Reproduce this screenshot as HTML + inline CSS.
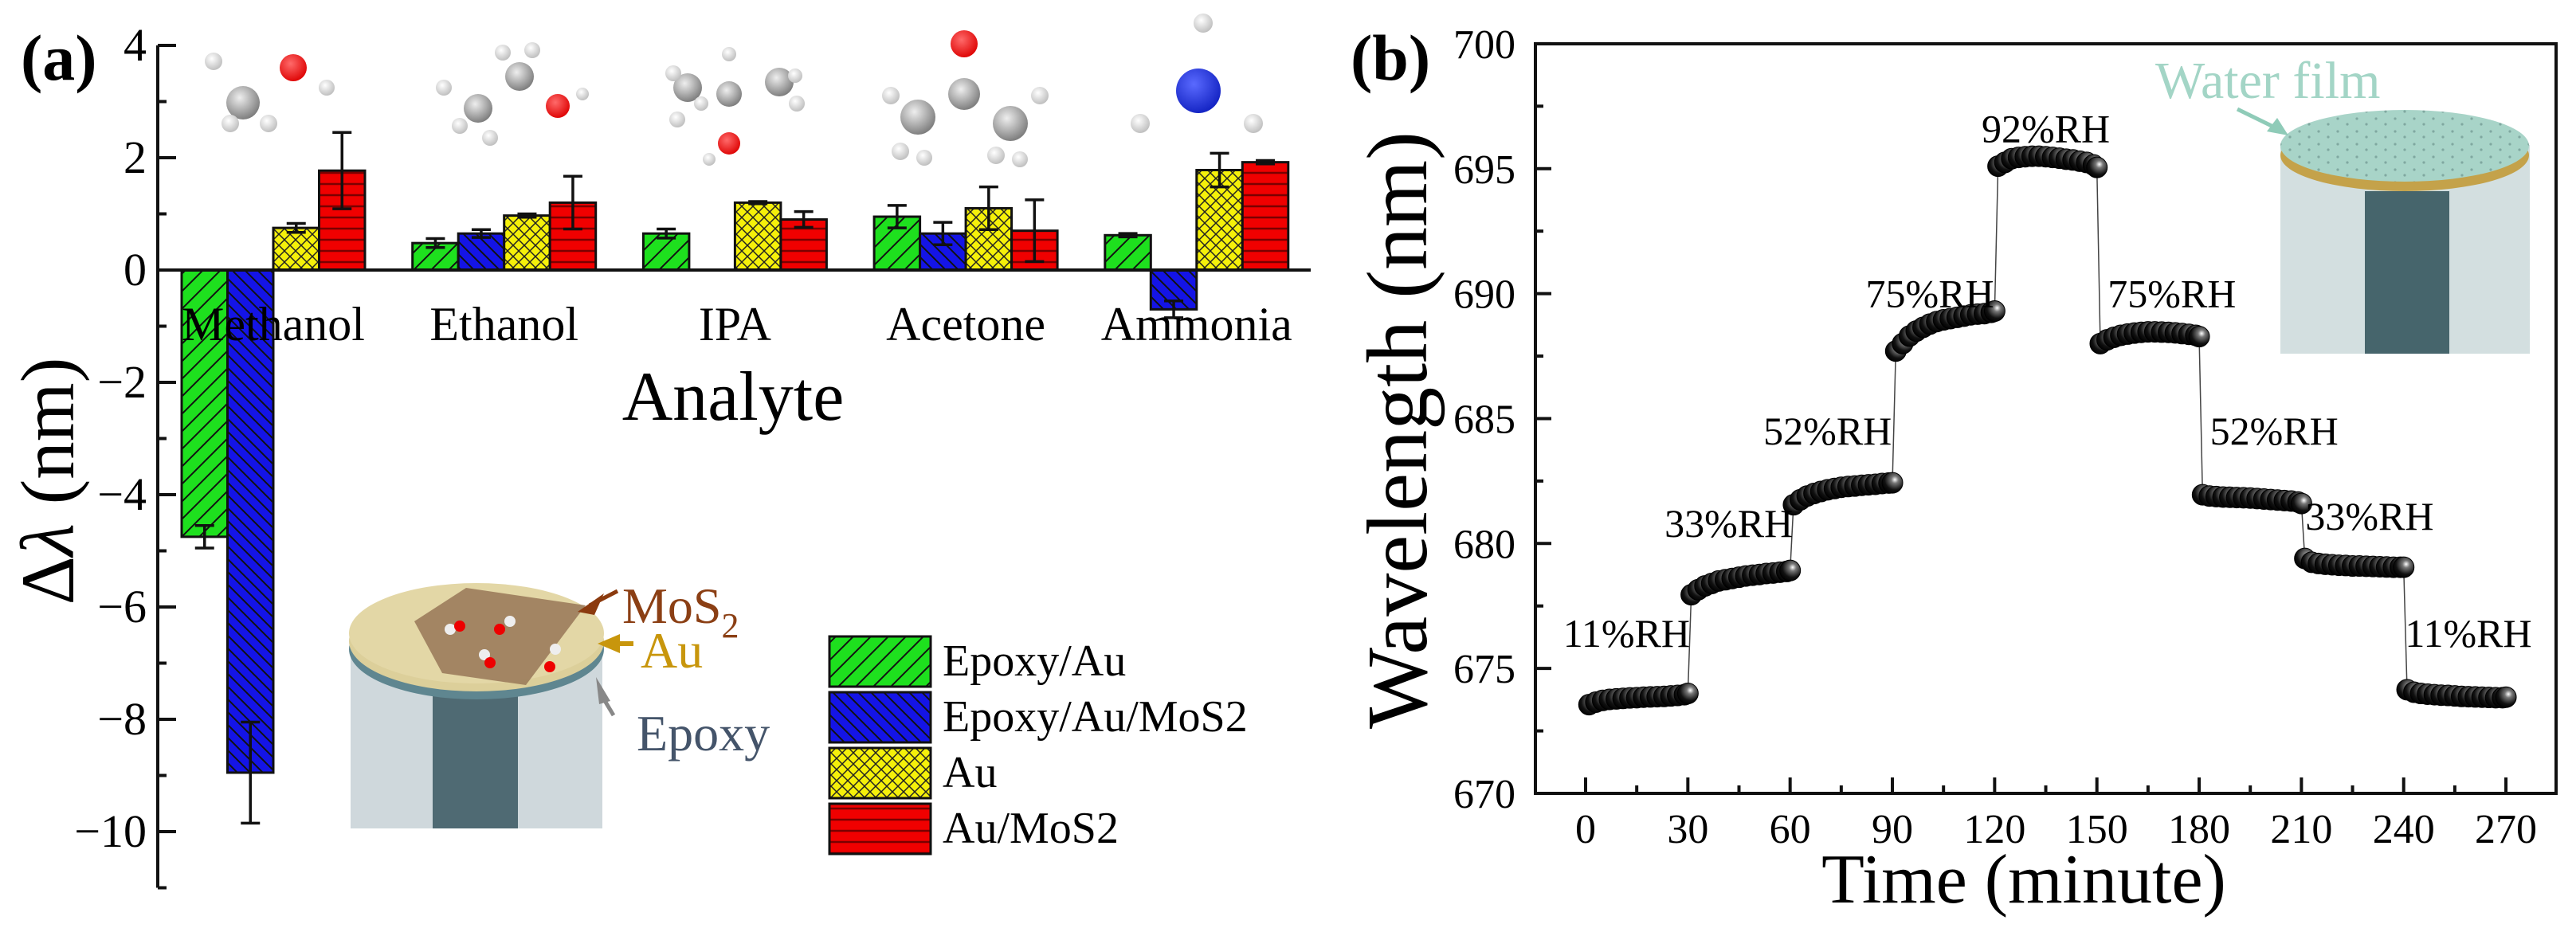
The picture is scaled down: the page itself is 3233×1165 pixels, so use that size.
<!DOCTYPE html>
<html><head><meta charset="utf-8"><style>
html,body{margin:0;padding:0;background:#fff;}
svg{display:block;font-family:"Liberation Serif",serif;}
</style></head><body>
<svg id="fig" width="3233" height="1165" viewBox="0 0 3233 1165" xmlns="http://www.w3.org/2000/svg">
<defs>
<pattern id="pG" patternUnits="userSpaceOnUse" width="22" height="22"><rect width="22" height="22" fill="#1ee01e"/><path d="M-5,27 L27,-5 M-16,16 L16,-16 M6,38 L38,6" stroke="#111" stroke-width="2"/></pattern>
<pattern id="pB" patternUnits="userSpaceOnUse" width="16" height="16"><rect width="16" height="16" fill="#1414e6"/><path d="M-4,-4 L20,20 M-12,4 L4,20 M4,-12 L20,4" stroke="#111" stroke-width="2"/></pattern>
<pattern id="pY" patternUnits="userSpaceOnUse" width="14" height="14"><rect width="14" height="14" fill="#f5f00a"/><path d="M0,0 L14,14 M14,0 L0,14" stroke="#222" stroke-width="1.5"/></pattern>
<pattern id="pR" patternUnits="userSpaceOnUse" width="14" height="14"><rect width="14" height="14" fill="#f00000"/><path d="M0,7 L14,7" stroke="#7a0000" stroke-width="2.5"/></pattern>
<pattern id="pW" patternUnits="userSpaceOnUse" width="24" height="16"><rect width="24" height="16" fill="#a8d4c8"/><circle cx="6" cy="5" r="1.6" fill="#7fa8a0"/><circle cx="18" cy="12" r="1.6" fill="#7fa8a0"/></pattern>
<radialGradient id="ball" cx="0.62" cy="0.35" r="0.7"><stop offset="0" stop-color="#fff"/><stop offset="0.25" stop-color="#777"/><stop offset="0.7" stop-color="#111"/><stop offset="1" stop-color="#000"/></radialGradient>
<radialGradient id="gC" cx="0.4" cy="0.35" r="0.7"><stop offset="0" stop-color="#eee"/><stop offset="1" stop-color="#777"/></radialGradient>
<radialGradient id="gH" cx="0.4" cy="0.35" r="0.7"><stop offset="0" stop-color="#fff"/><stop offset="1" stop-color="#bbb"/></radialGradient>
<radialGradient id="gO" cx="0.4" cy="0.35" r="0.7"><stop offset="0" stop-color="#ff6a6a"/><stop offset="1" stop-color="#d00"/></radialGradient>
<radialGradient id="gN" cx="0.4" cy="0.35" r="0.7"><stop offset="0" stop-color="#5a6aff"/><stop offset="1" stop-color="#1020c0"/></radialGradient>
</defs>

<text x="26" y="100" font-size="82" font-weight="bold">(a)</text>
<g id="molecules"></g>
<g id="pa"></g>
<text transform="translate(92,604) rotate(-90)" text-anchor="middle" font-size="95">Δ<tspan font-style="italic">λ</tspan> (nm)</text>
<text x="920" y="527" text-anchor="middle" font-size="88">Analyte</text>

<g>
<rect x="440" y="800" width="316" height="240" fill="#cfd8dc"/>
<rect x="543" y="860" width="107" height="180" fill="#4f6a73"/>
<ellipse cx="598" cy="815" rx="160" ry="63" fill="#5f8690"/>
<ellipse cx="598" cy="805" rx="160" ry="63" fill="#dccf9a"/>
<ellipse cx="598" cy="795" rx="160" ry="63" fill="#e3d7a6"/>
<polygon points="520,780 585,738 735,760 660,860 555,845" fill="#9b7c5c" opacity="0.9"/>
<circle cx="565" cy="790" r="7" fill="#eee"/><circle cx="577" cy="786" r="7" fill="#e00"/>
<circle cx="640" cy="780" r="7" fill="#eee"/><circle cx="627" cy="790" r="7" fill="#e00"/>
<circle cx="608" cy="822" r="7" fill="#eee"/><circle cx="615" cy="832" r="7" fill="#e00"/>
<circle cx="697" cy="815" r="7" fill="#eee"/><circle cx="690" cy="837" r="7" fill="#e00"/>
<polygon points="725,768 758,745 746,772" fill="#8b3a0e"/><line x1="740" y1="760" x2="775" y2="742" stroke="#8b3a0e" stroke-width="5"/>
<polygon points="750,808 778,796 778,820" fill="#c8960c"/><line x1="775" y1="808" x2="795" y2="808" stroke="#c8960c" stroke-width="6"/>
<polygon points="748,850 766,880 752,884" fill="#888"/><line x1="758" y1="878" x2="770" y2="898" stroke="#888" stroke-width="5"/>
<text x="781" y="782" font-size="64" fill="#8b3f14">MoS<tspan font-size="44" dy="18">2</tspan></text>
<text x="804" y="838" font-size="64" fill="#c8960c">Au</text>
<text x="799" y="942" font-size="64" fill="#44546a">Epoxy</text>
</g>

<g>
<g><rect x="1041" y="799" width="127" height="63" fill="url(#pG)" stroke="#111" stroke-width="3"/><text x="1183" y="848" font-size="56">Epoxy/Au</text></g>
<g><rect x="1041" y="869" width="127" height="63" fill="url(#pB)" stroke="#111" stroke-width="3"/><text x="1183" y="918" font-size="56">Epoxy/Au/MoS2</text></g>
<g><rect x="1041" y="939" width="127" height="63" fill="url(#pY)" stroke="#111" stroke-width="3"/><text x="1183" y="988" font-size="56">Au</text></g>
<g><rect x="1041" y="1009" width="127" height="63" fill="url(#pR)" stroke="#111" stroke-width="3"/><text x="1183" y="1058" font-size="56">Au/MoS2</text></g>
</g>

<text x="1695" y="100" font-size="82" font-weight="bold">(b)</text>
<g>
<rect x="2862" y="182" width="313" height="262" fill="#d3dfe0"/>
<rect x="2968" y="240" width="106" height="204" fill="#46656c"/>
<ellipse cx="3018" cy="195" rx="156" ry="45" fill="#c4a24a"/>
<ellipse cx="3018" cy="183" rx="156" ry="45" fill="url(#pW)"/>
<line x1="2808" y1="137" x2="2855" y2="160" stroke="#8fcbb8" stroke-width="5"/>
<polygon points="2845,165 2872,170 2858,148" fill="#8fcbb8"/>
<text x="2705" y="123" font-size="66" fill="#a3d5c6">Water film</text>
</g>
<g id="pb"></g>
<text transform="translate(1790,540) rotate(-90)" text-anchor="middle" font-size="108">Wavelength (nm)</text>
<text x="2540" y="1133" text-anchor="middle" font-size="88">Time (minute)</text>
</svg>
<script>
const categories = ["Methanol","Ethanol","IPA","Acetone","Ammonia"];
const epoxyAu = [-4.75, 0.48, 0.65, 0.95, 0.62];
const epoxyAuErr = [0.2, 0.08, 0.08, 0.2, 0.03];
const epoxyAuMoS2 = [-8.95, 0.65, null, 0.65, -0.7];
const epoxyAuMoS2Err = [0.9, 0.07, 0, 0.2, 0.15];
const au = [0.75, 0.97, 1.2, 1.1, 1.78];
const auErr = [0.08, 0.03, 0.02, 0.38, 0.3];
const auMoS2 = [1.77, 1.2, 0.9, 0.7, 1.92];
const auMoS2Err = [0.68, 0.47, 0.14, 0.55, 0.03];
const yTicksA = [4, 2, 0, -2, -4, -6, -8, -10];

const segStarts = [0, 30, 60, 90, 120, 150, 180, 210, 240];
const segOffsets = [1, 3, 5, 7, 9, 11, 13, 15, 17, 19, 21, 23, 25, 27, 29, 30];
const seg1 = [673.55,673.65,673.72,673.76,673.78,673.8,673.82,673.83,673.85,673.86,673.87,673.88,673.9,673.92,673.95,674.0];
const seg2 = [677.95,678.15,678.3,678.4,678.5,678.55,678.6,678.65,678.7,678.73,678.76,678.8,678.82,678.85,678.88,678.92];
const seg3 = [681.55,681.75,681.9,682.0,682.08,682.15,682.2,682.25,682.28,682.3,682.33,682.35,682.37,682.4,682.42,682.43];
const seg4 = [687.7,688.0,688.3,688.5,688.65,688.78,688.88,688.95,689.0,689.05,689.1,689.15,689.18,689.2,689.25,689.3];
const seg5 = [695.1,695.25,695.4,695.45,695.48,695.5,695.5,695.48,695.45,695.42,695.38,695.35,695.3,695.25,695.15,695.05];
const seg6 = [688.0,688.15,688.25,688.33,688.38,688.42,688.45,688.47,688.47,688.46,688.45,688.43,688.4,688.37,688.33,688.28];
const seg7 = [681.95,681.9,681.88,681.86,681.85,681.84,681.83,681.82,681.8,681.78,681.76,681.74,681.72,681.7,681.66,681.6];
const seg8 = [679.4,679.25,679.2,679.17,679.15,679.13,679.12,679.1,679.1,679.09,679.08,679.07,679.06,679.05,679.05,679.05];
const seg9 = [674.15,674.05,674.0,673.97,673.95,673.93,673.92,673.9,673.88,673.87,673.86,673.85,673.84,673.83,673.83,673.85];
const rhLabels = ["11%RH","33%RH","52%RH","75%RH","92%RH","75%RH","52%RH","33%RH","11%RH"];
const rhLabelT = [12, 42, 71, 101, 135, 172, 202, 230, 259];
const rhLabelW = [676.4, 680.8, 684.5, 690.0, 696.6, 690.0, 684.5, 681.1, 676.4];
const xTicksB = [0,30,60,90,120,150,180,210,240,270];
const yTicksB = [670,675,680,685,690,695,700];

const NS = "http://www.w3.org/2000/svg";
function mk(tag, attrs, parent){const e=document.createElementNS(NS,tag);for(const k in attrs)e.setAttribute(k,attrs[k]);parent.appendChild(e);return e;}

const pa = document.getElementById('pa');
const axA = {x0:198, y0:339, k:70.5, g0:228, gStep:289.7, bw:57.5};
const yA = v => axA.y0 - v*axA.k;
const series = [[epoxyAu,epoxyAuErr,'url(#pG)','epoxy-au'],[epoxyAuMoS2,epoxyAuMoS2Err,'url(#pB)','epoxy-au-mos2'],[au,auErr,'url(#pY)','au'],[auMoS2,auMoS2Err,'url(#pR)','au-mos2']];
categories.forEach((c,i)=>{
  series.forEach((s,j)=>{
    const v=s[0][i]; if(v===null) return;
    const x=axA.g0+i*axA.gStep+j*axA.bw;
    const r=mk('rect',{x:x,y:Math.min(yA(v),yA(0)),width:axA.bw,height:Math.abs(yA(v)-yA(0)),fill:s[2],stroke:'#111','stroke-width':3},pa);
    
    
    const e=s[1][i], cx=x+axA.bw/2;
    const g=mk('g',{stroke:'#111','stroke-width':3.5},pa);
    
    
    mk('line',{x1:cx,y1:yA(v+e),x2:cx,y2:yA(v-e)},g);
    mk('line',{x1:cx-12,y1:yA(v+e),x2:cx+12,y2:yA(v+e)},g);
    mk('line',{x1:cx-12,y1:yA(v-e),x2:cx+12,y2:yA(v-e)},g);
  });
  const t=mk('text',{x:axA.g0+i*axA.gStep+2*axA.bw,y:427,'text-anchor':'middle','font-size':60},pa);
  t.textContent=c;
  
  
});
const zl=mk('line',{x1:axA.x0,y1:yA(0),x2:1645,y2:yA(0),stroke:'#111','stroke-width':4},pa);


const yax=mk('line',{x1:axA.x0,y1:yA(4),x2:axA.x0,y2:yA(-11),stroke:'#111','stroke-width':4},pa);


for(let v=4; v>=-11; v--){
  const major = v%2===0;
  mk('line',{x1:axA.x0,y1:yA(v),x2:axA.x0+(major?23:11),y2:yA(v),stroke:'#111','stroke-width':4},pa);
}
yTicksA.forEach(v=>{
  const t=mk('text',{x:axA.x0-14,y:yA(v)+19,'text-anchor':'end','font-size':58},pa);
  t.textContent=(v<0?'\u2212':'')+Math.abs(v);
  
  
});

const mol=document.getElementById('molecules');
const atoms=[
 ['C',305,129,21],['O',368,85,17],['H',268,77,11],['H',410,110,10],['H',289,155,11],['H',337,155,11],
 ['C',600,136,18],['C',652,96,18],['O',700,133,15],['H',557,110,10],['H',577,158,10],['H',615,173,10],['H',631,66,10],['H',668,63,10],['H',731,118,8],
 ['C',863,110,18],['C',915,118,16],['C',978,103,18],['O',915,180,14],['H',845,92,10],['H',850,150,10],['H',880,130,9],['H',915,68,9],['H',1000,130,10],['H',998,95,9],['H',890,200,8],
 ['C',1152,147,22],['C',1210,118,20],['C',1268,155,22],['O',1210,55,17],['H',1118,120,11],['H',1130,190,11],['H',1160,198,10],['H',1305,120,11],['H',1250,195,11],['H',1280,200,10],
 ['N',1504,114,28],['H',1510,29,12],['H',1431,155,12],['H',1573,155,12]
];
const fills={C:'url(#gC)',O:'url(#gO)',H:'url(#gH)',N:'url(#gN)'};
atoms.forEach(a=>{const c=mk('circle',{cx:a[1],cy:a[2],r:a[3],fill:fills[a[0]]},mol);});

const pb=document.getElementById('pb');
const axB={L:1927,R:3208,T:55,B:996,x0:1990,kx:4.278,w0:670,ky:31.37};
const xB=t=>axB.x0+t*axB.kx, yB=w=>axB.B-(w-axB.w0)*axB.ky;
const segs=[seg1,seg2,seg3,seg4,seg5,seg6,seg7,seg8,seg9];
const frame=mk('rect',{x:axB.L,y:axB.T,width:axB.R-axB.L,height:axB.B-axB.T,fill:'none',stroke:'#111','stroke-width':4},pb);


for(let t=0;t<=270;t+=15){const M=t%30===0;mk('line',{x1:xB(t),y1:axB.B,x2:xB(t),y2:axB.B-(M?20:10),stroke:'#111','stroke-width':4},pb);}
for(let w=670;w<=700;w+=2.5){const M=w%5===0;mk('line',{x1:axB.L,y1:yB(w),x2:axB.L+(M?20:10),y2:yB(w),stroke:'#111','stroke-width':4},pb);}
xTicksB.forEach(t=>{const e=mk('text',{x:xB(t),y:1058,'text-anchor':'middle','font-size':52},pb);e.textContent=t;});
yTicksB.forEach(w=>{const e=mk('text',{x:1902,y:yB(w)+18,'text-anchor':'end','font-size':52},pb);e.textContent=w;});
for(let s=0;s<segs.length-1;s++){
  const a=segs[s], b=segs[s+1];
  const l=mk('line',{x1:xB(segStarts[s]+segOffsets[segOffsets.length-1]),y1:yB(a[a.length-1]),x2:xB(segStarts[s+1]+segOffsets[0]),y2:yB(b[0]),stroke:'#444','stroke-width':1.5},pb);
  
  
}
segs.forEach((sg,s)=>{
  const g=mk('g',{},pb);
  
  
  sg.forEach((w,i)=>{
    const c=mk('circle',{cx:xB(segStarts[s]+segOffsets[i]),cy:yB(w),r:13,fill:'url(#ball)',stroke:'#000','stroke-width':1},g);
    
    
  });
});
rhLabels.forEach((t,i)=>{const e=mk('text',{x:xB(rhLabelT[i]),y:yB(rhLabelW[i])+17,'text-anchor':'middle','font-size':50},pb);e.textContent=t;});
</script>
</body></html>
